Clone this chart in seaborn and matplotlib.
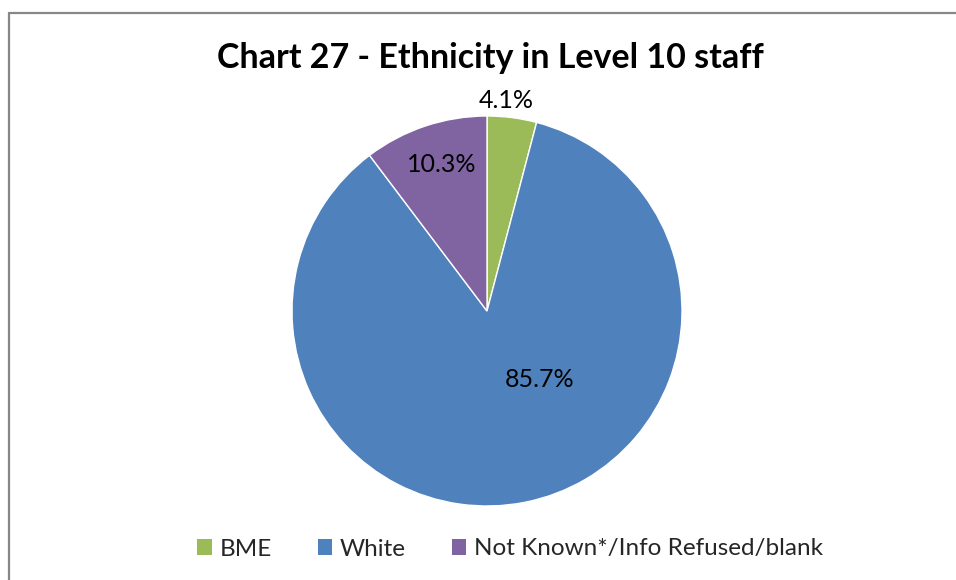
import matplotlib
matplotlib.use("Agg")
import matplotlib.pyplot as plt
from matplotlib.lines import Line2D
from matplotlib.patches import Patch
import numpy as np
import seaborn as sns

categories = ["BME", "White", "Not Known*/Info Refused/blank"]
shares = [4.1, 85.7, 10.3]
colors = ["#9BBB59", "#4F81BD", "#8064A2"]
title = "Chart 27 - Ethnicity in Level 10 staff"

sns.set_theme(style="white")
plt.rcParams["font.family"] = ["Lato", "DejaVu Sans"]

W, H = 956, 580
fig = plt.figure(figsize=(W / 100, H / 100), dpi=100)

# pie axes: centre (487, 311) px, radius 195 px
cx, cy, r = 487, 311, 195
ax = fig.add_axes([(cx - r) / W, (H - cy - r) / H, 2 * r / W, 2 * r / H])
wedges, _ = ax.pie(shares, colors=colors, startangle=90, counterclock=False,
                   radius=1.0, wedgeprops=dict(edgecolor="white", linewidth=1.0))
ax.set_xlim(-1, 1)
ax.set_ylim(-1, 1)
ax.set_aspect("equal")
ax.axis("off")

# value labels, placed in the middle of each wedge (first one outside)
label_r = [1.09, 0.36, 0.79]
label_dx = [-0.04, 0.20, 0.02]
for w, v, lr, dx in zip(wedges, shares, label_r, label_dx):
    mid = np.deg2rad((w.theta1 + w.theta2) / 2)
    ax.text(lr * np.cos(mid) + dx, lr * np.sin(mid), f"{v:.1f}%",
            ha="center", va="center", fontsize=18, color="black")

fig.text(0.5 * (218 + 763) / W, 1 - 58 / H, title, ha="center", va="center",
         fontsize=24.5, fontweight="bold", color="black")

handles = [Patch(facecolor=c, edgecolor="none") for c in colors]
fig.legend(handles, categories, loc="center", bbox_to_anchor=(510 / W, 1 - 549 / H),
           ncol=3, frameon=False, fontsize=17.5, handlelength=0.6, handleheight=0.6,
           handletextpad=0.3, columnspacing=1.9)

# chart frame (top and left edges visible)
fig.add_artist(Line2D([9 / W, 1], [1 - 13 / H, 1 - 13 / H], color="#878787", lw=1.6,
                      transform=fig.transFigure))
fig.add_artist(Line2D([9 / W, 9 / W], [0, 1 - 13 / H], color="#878787", lw=1.6,
                      transform=fig.transFigure))

fig.savefig("out.png", dpi=100, facecolor="white")
